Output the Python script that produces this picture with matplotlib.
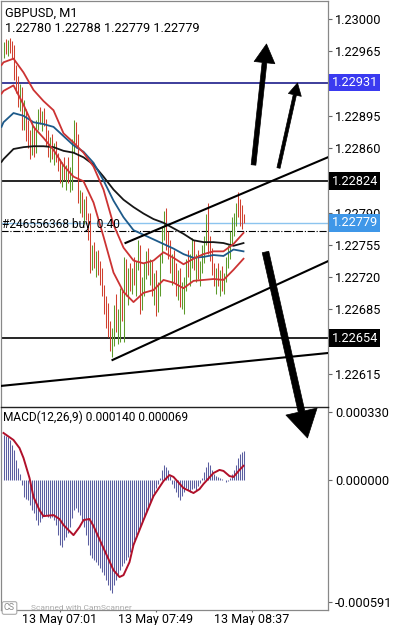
import matplotlib.pyplot as plt
from matplotlib.ticker import FixedFormatter

plt.rcParams['font.family'] = ['Roboto', 'DejaVu Sans']

# prices are stored as points above 1.22000 (1 point = 0.00001)
base = 1.22
pt = 0.00001

first_open = 965
closes = [970, 968, 974, 966, 962, 938, 925, 912, 922, 885,
          895, 872, 866, 855, 882, 858, 885, 898, 890, 895,
          887, 868, 855, 862, 852, 858, 848, 840, 830, 838,
          828, 835, 826, 832, 865, 882, 872, 805, 808, 792,
          800, 786, 765, 735, 748, 735, 742, 728, 720, 708,
          690, 685, 662, 648, 655, 685, 668, 680, 700, 680,
          735, 710, 722, 712, 725, 720, 735, 752, 690, 712,
          728, 740, 726, 735, 705, 712, 690, 708, 740, 770,
          785, 755, 748, 730, 738, 720, 712, 722, 695, 708,
          715, 735, 728, 740, 755, 735, 738, 725, 732, 750,
          760, 782, 750, 745, 728, 718, 725, 715, 722, 712,
          720, 738, 750, 765, 778, 784, 795, 790, 782, 780,
          779]
highs = [975, 978, 977, 979, 976, 972, 950, 938, 930, 926,
         912, 902, 890, 880, 888, 884, 890, 902, 905, 900,
         903, 892, 880, 872, 875, 865, 868, 855, 848, 845,
         850, 842, 850, 840, 870, 890, 888, 875, 815, 812,
         805, 808, 790, 790, 755, 758, 748, 750, 738, 730,
         712, 700, 692, 672, 665, 690, 702, 685, 708, 705,
         742, 740, 730, 735, 730, 742, 738, 760, 755, 720,
         735, 748, 752, 740, 738, 725, 728, 715, 745, 775,
         792, 795, 770, 760, 745, 750, 735, 728, 730, 715,
         720, 740, 750, 745, 762, 760, 745, 750, 738, 755,
         765, 788, 800, 765, 752, 735, 730, 735, 728, 732,
         725, 742, 755, 770, 785, 790, 800, 812, 805, 798,
         788]
lows = [958, 962, 960, 963, 958, 934, 920, 905, 900, 880,
        880, 868, 860, 848, 852, 850, 855, 880, 886, 878,
        884, 862, 850, 845, 848, 842, 845, 835, 822, 818,
        825, 815, 822, 812, 815, 855, 860, 800, 790, 785,
        778, 782, 760, 725, 728, 730, 720, 722, 712, 700,
        680, 665, 655, 640, 633, 645, 660, 648, 650, 672,
        650, 700, 690, 705, 702, 712, 700, 728, 680, 684,
        700, 718, 722, 712, 700, 690, 678, 682, 700, 735,
        760, 750, 740, 725, 712, 715, 700, 695, 688, 685,
        680, 705, 720, 710, 730, 728, 715, 718, 710, 725,
        735, 755, 745, 738, 722, 710, 702, 710, 700, 705,
        702, 715, 730, 740, 755, 765, 775, 785, 775, 772,
        779]

# moving averages every 5 bars
ma_idx = [-1, 0, 5, 10, 15, 20, 25, 30, 35, 40, 45, 50, 55, 60,
          65, 70, 75, 80, 85, 90, 95, 100, 105, 110, 115, 120]
ma_red1 = [950, 953, 957, 942, 923, 911, 901, 876, 866, 855, 840, 815, 777, 752,
           738, 735, 738, 747, 741, 734, 740, 745, 748, 748, 756, 768]
ma_red2 = [919, 922, 928, 907, 883, 871, 858, 841, 829, 824, 801, 764, 725, 704,
           693, 703, 706, 717, 714, 708, 716, 717, 718, 717, 728, 740]
ma_blue = [883, 888, 898, 895, 888, 886, 883, 873, 863, 856, 844, 825, 803, 785,
           771, 766, 761, 756, 751, 745, 741, 742, 744, 743, 750, 748]
ma_black = [845, 848, 859, 861, 862, 862, 861, 857, 855, 850, 842, 829, 815, 804,
            796, 789, 783, 779, 773, 767, 760, 758, 758, 757, 754, 757]

# MACD histogram and signal, in millionths
macd_hist = [218, 213, 209, 194, 170, 146, 97, 58, 29, -24,
             -82, -92, -97, -121, -146, -160, -194, -218, -204, -184,
             -175, -170, -179, -184, -179, -194, -218, -267, -315, -325,
             -291, -276, -257, -228, -184, -146, -136, -155, -170, -194,
             -228, -267, -315, -364, -378, -388, -398, -412, -427, -446,
             -461, -485, -509, -534, -548, -509, -485, -461, -437, -417,
             -403, -388, -373, -349, -320, -291, -267, -243, -228, -204,
             -179, -155, -131, -112, -82, -63, -39, -19, 10, 49,
             73, 63, 49, 19, -19, -39, -58, -82, -97, -78,
             -58, -39, -49, -58, -44, -39, -49, -29, -15, 10,
             39, 63, 87, 73, 49, 29, 19, 15, 10, 5,
             2, -10, -5, 10, 29, 49, 73, 107, 126, 136,
             140]
sig_idx = [0, 5, 8, 10, 13, 15, 18, 20, 25, 28, 30, 35, 38, 40, 43, 45, 50, 55,
           58, 60, 63, 65, 70, 75, 80, 83, 85, 90, 95, 98, 100, 105, 108, 110,
           113, 115, 118, 120]
sig_vals = [228, 194, 155, 107, 10, -82, -146, -175, -170, -189, -218, -267, -228,
            -194, -189, -223, -330, -437, -470, -461, -398, -315, -194, -78, -5,
            24, 15, -39, -63, -44, -19, 34, 49, 44, 19, 15, 49, 69]

time_idx = [28, 76, 124]
time_labels = ["13 May 07:01", "13 May 07:49", "13 May 08:37"]

price_ticks = [1.23000, 1.22965, 1.22930, 1.22895, 1.22860, 1.22825,
               1.22790, 1.22755, 1.22720, 1.22685, 1.22650, 1.22615]
# labels hidden under the level boxes are left blank
price_tick_labels = ["1.23000", "1.22965", "", "1.22895", "1.22860", "",
                     "1.22790", "1.22755", "1.22720", "1.22685", "", "1.22615"]
macd_ticks = [0.000330, 0.0, -0.000591]
macd_tick_labels = ["0.000330", "0.000000", "-0.000591"]

level_blue = 1.22931
levels_black = [1.22824, 1.22654]
bid = 1.22779
order_price = 1.22770

trend_lines = [((61, 1.227571), (162.5, 1.228503)),
               ((54.5, 1.226302), (162.5, 1.227376)),
               ((-1.5, 1.226020), (162.5, 1.226378))]

# (tail, tip, head_length, head_width, tail_width) sizes in points
arrows = [((125, 1.228417), (131.5, 1.229729), 13.5, 15, 3.4),
          ((137.5, 1.228384), (147, 1.229306), 8.8, 9.5, 2.3),
          ((131, 1.227473), (152, 1.225456), 19.5, 23, 4.8)]

green = '#5c9a2a'
red = '#d0402f'

fig = plt.figure(figsize=(3.93, 6.25), dpi=100)
ax = fig.add_axes([1 / 393, 1 - 407 / 625, 327 / 393, 406 / 625])
mx = fig.add_axes([1 / 393, 1 - 610 / 625, 327 / 393, 203 / 625], sharex=ax)
ax.set_zorder(2)
mx.set_zorder(1)
ax.patch.set_visible(False)

idx = list(range(len(closes)))
opens = [first_open] + closes[:-1]
cols = [green if c >= o else red for o, c in zip(opens, closes)]
ax.vlines(idx, [base + v * pt for v in lows], [base + v * pt for v in highs],
          colors=cols, lw=0.75, zorder=2)

for vals, c in [(ma_black, '#161616'), (ma_blue, '#1d5a8a'),
                (ma_red1, '#cc3333'), (ma_red2, '#cc3333')]:
    ax.plot(ma_idx, [base + v * pt for v in vals], color=c, lw=1.3, zorder=3)

ax.axhline(level_blue, color='#1c1c8a', lw=1.2, zorder=1)
for lv in levels_black:
    ax.axhline(lv, color='black', lw=1.2, zorder=1)
ax.axhline(bid, color='#8cc4ef', lw=1.0, zorder=1)
ax.axhline(order_price, color='black', lw=0.8, ls='-.', zorder=1)

for (x0, y0), (x1, y1) in trend_lines:
    ax.plot([x0, x1], [y0, y1], color='black', lw=1.5, zorder=4)

for tail, tip, hl, hw, tw in arrows:
    ax.annotate("", xy=tip, xytext=tail, annotation_clip=False,
                arrowprops=dict(arrowstyle=f"simple,head_length={hl},head_width={hw},tail_width={tw}",
                                fc='black', ec='black', lw=0.5, shrinkA=0, shrinkB=0,
                                mutation_scale=1, clip_on=False), zorder=6)

# bars land on pixel centres (2 px per minute)
ax.set_xlim(-1.25, 162.25)
ax.set_ylim(1.225792, 1.230195)
ax.yaxis.tick_right()
ax.set_yticks(price_ticks)
ax.yaxis.set_major_formatter(FixedFormatter(price_tick_labels))
ax.tick_params(axis='y', length=3, width=0.8, color='#666666', labelsize=9.2, pad=2)
ax.tick_params(axis='x', bottom=False, labelbottom=False)
for s in ['left', 'top', 'right']:
    ax.spines[s].set_color('#888888')
    ax.spines[s].set_linewidth(0.9)
ax.spines['bottom'].set_color('#222222')
ax.spines['bottom'].set_linewidth(1.0)

boxes = [(level_blue, '#3a3af0'), (levels_black[0], 'black'),
         (bid, '#3f97e8'), (levels_black[1], 'black')]
for price, c in boxes:
    ax.annotate(f"{price:.5f}", xy=(1, price), xycoords=('axes fraction', 'data'),
                xytext=(2.6, 0), textcoords='offset points', ha='left', va='center',
                fontsize=9.2, color='white', annotation_clip=False, zorder=7,
                bbox=dict(boxstyle='square,pad=0.18', fc=c, ec='none'))

# MACD pane
mx.vlines(idx, 0, [v * 1e-6 for v in macd_hist], colors='#5a5ea0', lw=0.75)
mx.plot(sig_idx, [v * 1e-6 for v in sig_vals], color='#b0102a', lw=1.4)
mx.set_ylim(-0.000630, 0.000354)
mx.yaxis.tick_right()
mx.set_yticks(macd_ticks)
mx.yaxis.set_major_formatter(FixedFormatter(macd_tick_labels))
mx.tick_params(axis='y', length=3, width=0.8, color='#666666', labelsize=9.2, pad=2)
mx.set_xticks(time_idx)
mx.set_xticklabels(time_labels)
mx.tick_params(axis='x', length=1.5, width=0.8, color='#666666', labelsize=9, pad=0.5)
for s in ['left', 'bottom', 'right']:
    mx.spines[s].set_color('#888888')
    mx.spines[s].set_linewidth(0.9)
mx.spines['top'].set_visible(False)

fig.text(5 / 393, 1 - 13 / 625, "GBPUSD, M1", fontsize=9.2, va='center')
fig.text(5 / 393, 1 - 28 / 625, "1.22780 1.22788 1.22779 1.22779", fontsize=9.2, va='center')
fig.text(2 / 393, 1 - 224 / 625, "#246556368 buy  0.40", fontsize=8.6, va='center', zorder=8)
fig.text(3 / 393, 1 - 417 / 625, "MACD(12,26,9) 0.000140 0.000069", fontsize=8.6, va='center')
fig.text(4 / 393, 1 - 608 / 625, "CS", fontsize=6.5, color='#888888', va='center',
         bbox=dict(boxstyle='round,pad=0.2', fc='white', ec='#aaaaaa', lw=0.8))
fig.text(31 / 393, 1 - 608 / 625, "Scanned with CamScanner", fontsize=6, color='#aaaaaa', va='center')

fig.savefig("out.png", dpi=100)
